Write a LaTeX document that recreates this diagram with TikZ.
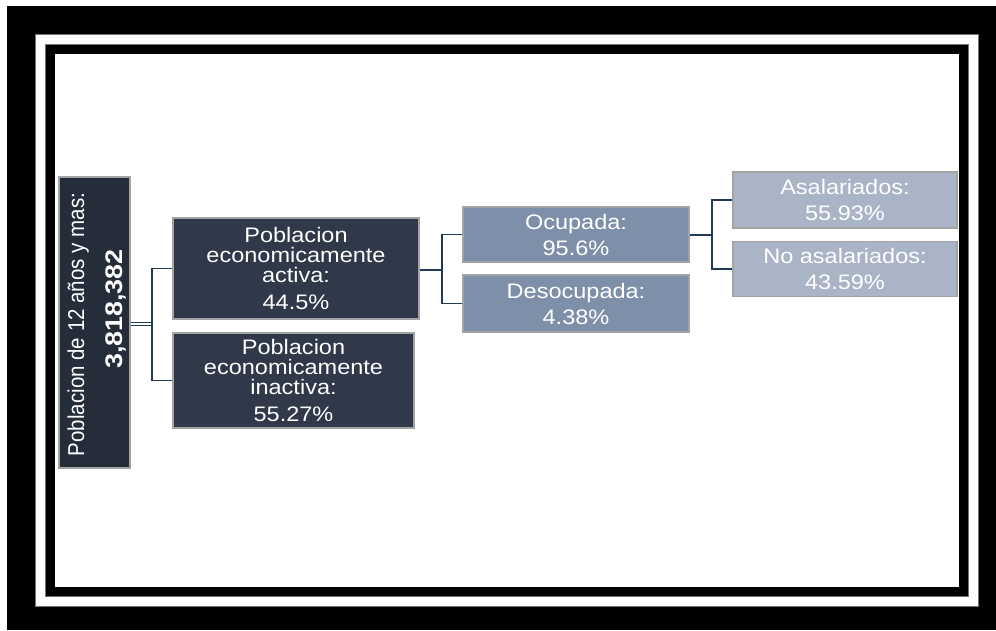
\documentclass[tikz,border=0pt]{standalone}
\usepackage{graphicx}
\usepackage{fontspec}
\setmainfont{Liberation Sans}[FakeStretch=1.12]
\newfontfamily\rootfont{Liberation Sans}
\definecolor{rootfill}{HTML}{262D3A}
\definecolor{pefill}{HTML}{2F394A}
\definecolor{ocufill}{HTML}{7E90A9}
\definecolor{asalfill}{HTML}{A9B4C7}
\definecolor{boxborder}{HTML}{A3A3A3}
\definecolor{conncol}{HTML}{22395A}
\begin{document}
\begin{tikzpicture}[x=1pt,y=-1pt,
  box/.style={draw=boxborder, line width=1.7pt, text=white, align=center,
    inner sep=0pt, font=\fontsize{21}{20}\selectfont},
  roottext/.style={rotate=90, anchor=base, text=white, inner sep=0pt},
  conn/.style={draw=conncol, line width=1.9pt},
  dblconn/.style={draw=conncol, line width=0.9pt, double=white, double distance=1.3pt}]
\useasboundingbox (0,0) rectangle (996,630);
% frame
\fill[black] (7,6) rectangle (996,630);
\filldraw[fill=white, draw=black!55, line width=0.8pt] (35,34) rectangle (978,606);
\filldraw[fill=black, draw=black!55, line width=0.8pt] (45,44) rectangle (968,596);
\fill[white] (55,54) rectangle (959,587);
% nodes
\node[box, fill=rootfill, minimum width=71pt, minimum height=291pt] (root) at (94.5,322.5) {};
\node[roottext, font=\rootfont\fontsize{20.5}{24}\selectfont] (rootl1) at (84,324.5)
  {\scalebox{1}[1.12]{Poblacion de 12 años y mas:}};
\node[roottext, font=\bfseries\fontsize{24}{28}\selectfont] (rootl2) at (122,309)
  {3,818,382};
\node[box, fill=pefill, minimum width=246pt, minimum height=101pt] (pea) at (296,268.5)
  {Poblacion\\economicamente\\activa:\\[7pt]44.5\%};
\node[box, fill=pefill, minimum width=241pt, minimum height=95pt] (pei) at (293.5,380.5)
  {Poblacion\\economicamente\\inactiva:\\[7pt]55.27\%};
\node[box, fill=ocufill, minimum width=226pt, minimum height=55pt] (ocu) at (576,234.5)
  {Ocupada:\\[6pt]95.6\%};
\node[box, fill=ocufill, minimum width=226pt, minimum height=57pt] (deso) at (576,303.5)
  {Desocupada:\\[6pt]4.38\%};
\node[box, fill=asalfill, minimum width=224pt, minimum height=56pt] (asal) at (845,200)
  {Asalariados:\\[6pt]55.93\%};
\node[box, fill=asalfill, minimum width=224pt, minimum height=55pt] (noasal) at (845,269)
  {No asalariados:\\[6pt]43.59\%};
% connectors
\coordinate (j1) at (152,324);
\coordinate (j2) at (442,270);
\coordinate (j3) at (712,235);
\draw[dblconn] (root.east |- j1) -- (j1);
\draw[conn] (pea.west) -- (pea.west -| j1) -- (pei.west -| j1) -- (pei.west);
\draw[conn] (pea.east |- j2) -- (j2);
\draw[conn] (ocu.west) -- (ocu.west -| j2) -- (deso.west -| j2) -- (deso.west);
\draw[conn] (ocu.east |- j3) -- (j3);
\draw[conn] (asal.west) -- (asal.west -| j3) -- (noasal.west -| j3) -- (noasal.west);
\end{tikzpicture}
\end{document}
